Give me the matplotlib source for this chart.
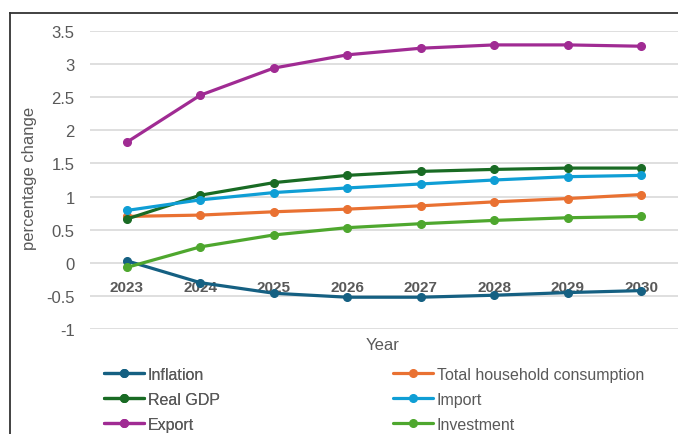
import matplotlib.pyplot as plt
from matplotlib.lines import Line2D

# data
years = ['2023', '2024', '2025', '2026', '2027', '2028', '2029', '2030']
inflation = [0.03, -0.30, -0.46, -0.52, -0.52, -0.49, -0.45, -0.42]
household = [0.70, 0.72, 0.77, 0.81, 0.86, 0.92, 0.97, 1.03]
real_gdp = [0.66, 1.02, 1.21, 1.32, 1.38, 1.41, 1.43, 1.43]
imports = [0.79, 0.95, 1.06, 1.13, 1.19, 1.25, 1.30, 1.32]
exports = [1.82, 2.53, 2.94, 3.14, 3.24, 3.29, 3.29, 3.27]
investment = [-0.07, 0.24, 0.42, 0.53, 0.59, 0.64, 0.68, 0.70]

series = [
    ("Inflation", inflation, "#156082"),
    ("Total household consumption", household, "#E97132"),
    ("Real GDP", real_gdp, "#196B24"),
    ("Import", imports, "#0F9ED5"),
    ("Export", exports, "#A02B93"),
    ("Investment", investment, "#4EA72E"),
]

plt.rcParams['font.family'] = ['Liberation Sans', 'DejaVu Sans']
grey = "#595959"

fig = plt.figure(figsize=(6.78, 4.35), dpi=100)
ax = fig.add_axes([90/678, 1 - 330/435, 1 - 90/678, (330 - 32)/435])

x = list(range(len(years)))
handles = {}
for name, vals, col in series:
    h, = ax.plot(x, vals, color=col, lw=2.3, marker='o', ms=5.5, label=name,
                 solid_capstyle='round')
    handles[name] = h

ax.set_xlim(-0.5, len(years) - 0.5)
ax.set_ylim(-1, 3.5)
ax.set_yticks([-1, -0.5, 0, 0.5, 1, 1.5, 2, 2.5, 3, 3.5])
ax.set_yticklabels(['-1', '-0.5', '0', '0.5', '1', '1.5', '2', '2.5', '3', '3.5'])
ax.yaxis.grid(True, color="#D9D9D9", lw=1.2)
ax.set_axisbelow(True)
for s in ax.spines.values():
    s.set_visible(False)
ax.spines['bottom'].set_position(('data', 0))
ax.set_xticks(x)
ax.set_xticklabels(years, fontweight='bold')
ax.tick_params(axis='x', length=0, pad=12.5, labelsize=11, labelcolor=grey)
ax.tick_params(axis='y', length=0, pad=11, labelsize=12, labelcolor=grey)

fig.text(383/678, 1 - 346/435, "Year", ha='center', va='center', fontsize=12, color=grey)
fig.text(30/678, 1 - 178/435, "percentage change", ha='center', va='center',
         rotation=90, fontsize=12, color=grey)

# two legend columns placed side by side
leg_kw = dict(frameon=False, fontsize=11.5, labelcolor=grey, handlelength=2.5,
              handletextpad=0.25, labelspacing=0.62, borderaxespad=0, borderpad=0)
leg1 = fig.legend([handles[n] for n in ["Inflation", "Real GDP", "Export"]],
                  ["Inflation", "Real GDP", "Export"], loc='upper left',
                  bbox_to_anchor=(104/678, 1 - 368/435), **leg_kw)
fig.add_artist(leg1)
fig.legend([handles[n] for n in ["Total household consumption", "Import", "Investment"]],
           ["Total household consumption", "Import", "Investment"], loc='upper left',
           bbox_to_anchor=(393/678, 1 - 368/435), **leg_kw)

# page frame lines from the screenshot
fig.add_artist(Line2D([10/678, 10/678], [0, 1 - 14/435], color="#333333", lw=1.3))
fig.add_artist(Line2D([10/678, 1], [1 - 14/435, 1 - 14/435], color="#333333", lw=1.3))

fig.savefig("out.png", dpi=100)
